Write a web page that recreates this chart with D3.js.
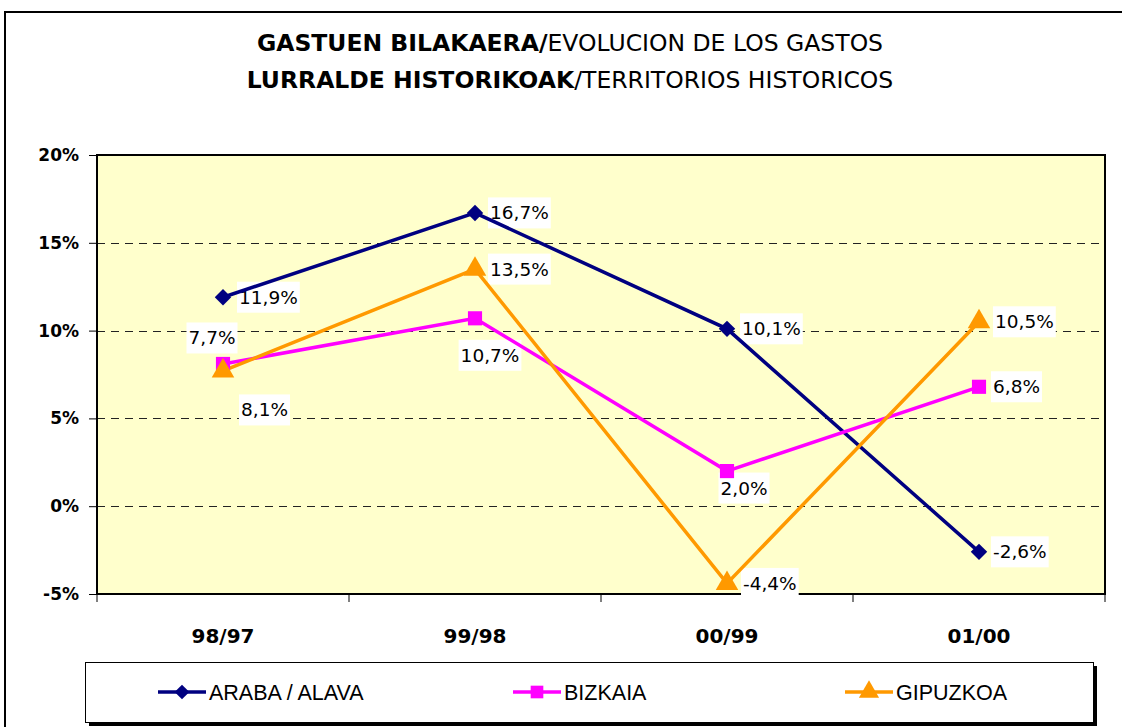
<!DOCTYPE html>
<html>
<head>
<meta charset="utf-8">
<script src="https://cdn.jsdelivr.net/npm/d3@7"></script>
<style>
  body { margin: 0; background: #fff; }
  .ttl { font-family: "DejaVu Sans", sans-serif; font-size: 23.5px; }
  .tick text { font-family: "DejaVu Sans", sans-serif; font-weight: bold; font-size: 17px; fill: #000; }
  .xl { font-family: "DejaVu Sans", sans-serif; font-weight: bold; font-size: 20px; }
  .lbl { font-family: "DejaVu Sans", sans-serif; font-size: 18.5px; }
  .leg { font-family: "Liberation Sans", Arial, sans-serif; font-size: 21.5px; }
</style>
</head>
<body>
<svg id="chart" width="1122" height="727"></svg>
<script>
// categories and series
const categories = ["98/97", "99/98", "00/99", "01/00"];
const araba = [11.9, 16.7, 10.1, -2.6];
const bizkaia = [8.1, 10.7, 2.0, 6.8];
const gipuzkoa = [7.7, 13.5, -4.4, 10.5];
const yTicks = [-5, 0, 5, 10, 15, 20];

// label placement per point [dx, dy, anchor]
const arabaLbl = [[16, 0, "start"], [15, 0, "start"], [15, 0, "start"], [14, 0, "start"]];
const bizkaiaLbl = [[18, 46, "start"], [15, 37, "middle"], [17, 17, "middle"], [14, 0, "start"]];
const gipuzkoaLbl = [[-11, -33, "middle"], [15, 0, "start"], [16, 0, "start"], [16, 0, "start"]];

const series = [
    { name: "ARABA / ALAVA", values: araba, lbl: arabaLbl, color: "#000080", shape: "diamond" },
    { name: "BIZKAIA", values: bizkaia, lbl: bizkaiaLbl, color: "#FF00FF", shape: "square" },
    { name: "GIPUZKOA", values: gipuzkoa, lbl: gipuzkoaLbl, color: "#FF9900", shape: "triangle" }
];

const plot = { left: 97, right: 1105, top: 155, bottom: 594 };

const svg = d3.select("#chart");

function marker(g, shape, scale) {
    if (shape === "diamond") {
        return g.append("path").attr("d", d3.symbol().type(d3.symbolSquare).size(135 * scale))
            .attr("transform", "rotate(45)");
    }
    if (shape === "square") {
        return g.append("path").attr("d", d3.symbol().type(d3.symbolSquare).size(200 * scale));
    }
    return g.append("path").attr("d", d3.symbol().type(d3.symbolTriangle).size(220 * scale));
}

// outer frame
svg.append("rect")
    .attr("x", 5).attr("y", 12)
    .attr("width", 1140).attr("height", 740)
    .attr("fill", "none").attr("stroke", "#000").attr("stroke-width", 2);

// title
const title = svg.append("text").attr("class", "ttl").attr("text-anchor", "middle");
title.append("tspan").attr("x", 570).attr("y", 51).attr("font-weight", "bold").text("GASTUEN BILAKAERA/");
title.append("tspan").text("EVOLUCION DE LOS GASTOS");
const title2 = svg.append("text").attr("class", "ttl").attr("text-anchor", "middle");
title2.append("tspan").attr("x", 570).attr("y", 88).attr("font-weight", "bold").text("LURRALDE HISTORIKOAK");
title2.append("tspan").text("/TERRITORIOS HISTORICOS");

var xScale = d3.scaleBand().domain(categories).range([plot.left, plot.right]);
var yScale = d3.scaleLinear().domain([-5, 20]).range([plot.bottom, plot.top]);

// plot area
svg.append("rect")
    .attr("x", plot.left).attr("y", plot.top)
    .attr("width", plot.right - plot.left).attr("height", plot.bottom - plot.top)
    .attr("fill", "#FFFFCC");

// grid lines
svg.selectAll(".grid")
    .data(yTicks.filter(t => t > -5 && t < 20))
    .enter()
    .append("line")
    .attr("x1", plot.left).attr("x2", plot.right)
    .attr("y1", d => Math.round(yScale(d)) + 0.5)
    .attr("y2", d => Math.round(yScale(d)) + 0.5)
    .attr("stroke", "#222")
    .attr("stroke-dasharray", "8,6");

svg.append("rect")
    .attr("x", plot.left).attr("y", plot.top)
    .attr("width", plot.right - plot.left).attr("height", plot.bottom - plot.top)
    .attr("fill", "none").attr("stroke", "#000").attr("stroke-width", 2);

// y axis
svg.append("g")
    .attr("transform", "translate(" + plot.left + ",0)")
    .call(d3.axisLeft(yScale).tickValues(yTicks).tickSize(8).tickPadding(10)
        .tickFormat(d => d + "%"))
    .call(g => g.select(".domain").remove())
    .call(g => g.selectAll(".tick line").attr("stroke", "#000"))
    .call(g => g.selectAll(".tick text").attr("font-family", null).attr("font-size", null));

// x axis ticks at band edges
svg.selectAll(".xtick")
    .data(categories.concat(["end"]))
    .enter()
    .append("line")
    .attr("x1", (d, i) => i < categories.length ? xScale(d) : plot.right)
    .attr("x2", (d, i) => i < categories.length ? xScale(d) : plot.right)
    .attr("y1", plot.bottom).attr("y2", plot.bottom + 8)
    .attr("stroke", "#000");

svg.selectAll(".xlab")
    .data(categories)
    .enter()
    .append("text")
    .attr("class", "xl")
    .attr("x", d => xScale(d) + xScale.bandwidth() / 2)
    .attr("y", 643)
    .attr("text-anchor", "middle")
    .text(d => d);

const cx = i => xScale(categories[i]) + xScale.bandwidth() / 2;

let line = d3.line()
    .x((d, i) => cx(i))
    .y(d => yScale(d));

// labels first (markers sit on top of the white boxes)
const labelLayer = svg.append("g");
const markLayer = svg.append("g");

series.forEach(s => {
    markLayer.append("path")
        .datum(s.values)
        .attr("d", line)
        .attr("fill", "none")
        .attr("stroke", s.color)
        .attr("stroke-width", 3.5);
});

series.forEach(s => {
    s.values.forEach((v, i) => {
        const mg = markLayer.append("g")
            .attr("transform", "translate(" + cx(i) + "," + yScale(v) + ")")
            .attr("fill", s.color);
        marker(mg, s.shape, 1);

        const [dx, dy, anchor] = s.lbl[i];
        const g = labelLayer.append("g");
        const t = g.append("text")
            .attr("class", "lbl")
            .attr("x", cx(i) + dx)
            .attr("y", yScale(v) + dy)
            .attr("dy", "0.35em")
            .attr("text-anchor", anchor)
            .text(v.toFixed(1).replace(".", ",") + "%");
        const b = t.node().getBBox();
        g.insert("rect", "text")
            .attr("x", b.x - 2).attr("y", b.y - 5)
            .attr("width", b.width + 4).attr("height", b.height + 10)
            .attr("fill", "#fff");
    });
});

// legend
svg.append("rect")
    .attr("x", 89).attr("y", 666).attr("width", 1008).attr("height", 60)
    .attr("fill", "#000");
svg.append("rect")
    .attr("x", 85.5).attr("y", 662.5).attr("width", 1008).attr("height", 60)
    .attr("fill", "#fff").attr("stroke", "#000");

const legX = [158, 513, 845];
series.forEach((s, i) => {
    const g = svg.append("g").attr("transform", "translate(" + legX[i] + ",692)");
    g.append("line").attr("x1", 0).attr("x2", 48)
        .attr("stroke", s.color).attr("stroke-width", 3.5);
    const mg = g.append("g").attr("transform", "translate(24,0)").attr("fill", s.color);
    marker(mg, s.shape, 0.8);
    g.append("text").attr("class", "leg")
        .attr("x", 51).attr("dy", "0.36em")
        .text(s.name);
});
</script>
</body>
</html>
